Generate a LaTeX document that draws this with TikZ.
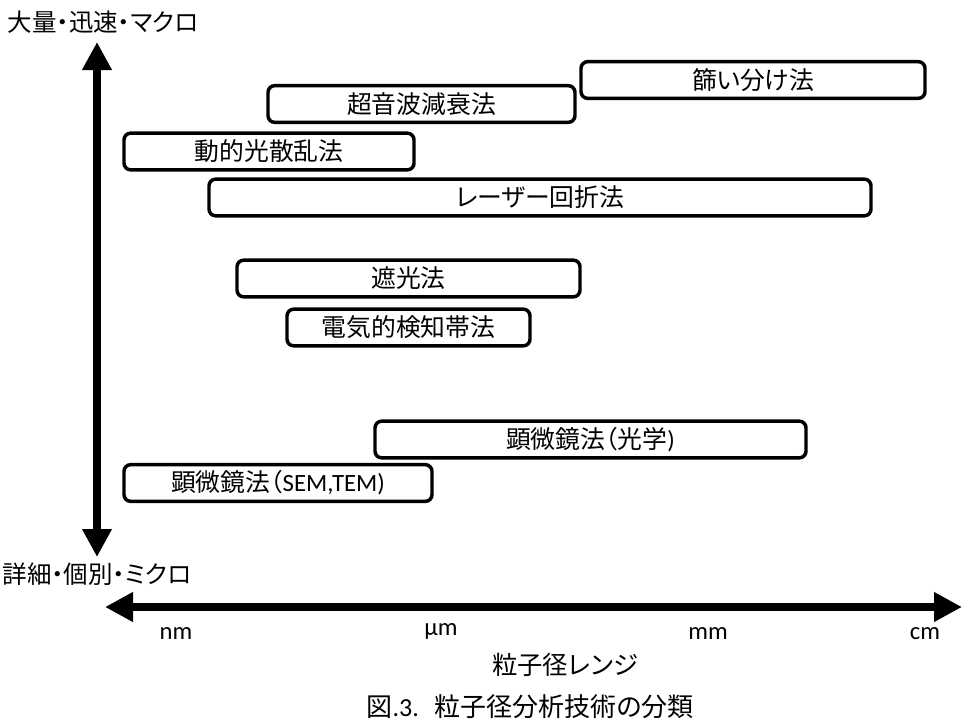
\documentclass[tikz,border=0pt]{standalone}
\usepackage{fontspec}
\setmainfont{Carlito}
\newfontfamily\jp{Noto Sans CJK JP}[RawFeature=+palt]
\usetikzlibrary{arrows.meta}
\tikzset{
    method/.style={draw, line width=2.6pt, rounded corners=5pt,
        minimum height=27.5pt, minimum width=#1*0.75pt, inner sep=0pt,
        font=\jp\fontsize{18.6}{22}\selectfont},
    jplabel/.style={inner sep=0pt, font=\jp\fontsize{18.4}{22}\selectfont},
    unitlabel/.style={inner sep=0pt, font=\fontsize{18.5}{22}\selectfont},
    bigarrow/.style={line width=6pt,
        {Triangle[width=21pt,length=21pt]}-{Triangle[width=21pt,length=21pt]}},
}

\begin{document}
\begin{tikzpicture}[x=0.75pt, y=-0.75pt]
\useasboundingbox (0,0) rectangle (967,726);
% axes
\coordinate (ytop) at (97,42);
\coordinate (ybot) at (97,557);
\coordinate (xleft) at (105,607);
\coordinate (xright) at (962,607);
\draw[bigarrow] (ybot) -- (ytop);
\draw[bigarrow] (xleft) -- (xright);
\node[jplabel] (macro) at (103,22) {大量・迅速・マクロ};
\node[jplabel] (micro) at (97,574) {詳細・個別・ミクロ};
\node[unitlabel] (nm) at (176,634) {nm};
\node[unitlabel] (um) at (441,631) {µm};
\node[unitlabel] (mm) at (708,634) {mm};
\node[unitlabel] (cm) at (925,634) {cm};
\node[jplabel, font=\jp\fontsize{19}{22}\selectfont] (range) at (565,665) {粒子径レンジ};
\node[jplabel, font=\jp\fontsize{19.5}{22}\selectfont] (caption) at (530,707) {図{\rmfamily .3.}\hspace{0.6em}粒子径分析技術の分類};
% methods
\node[method=344] (sieve) at (753,80) {篩い分け法};
\node[method=307] (ultra) at (421.5,104) {超音波減衰法};
\node[method=290] (dls) at (269,151.5) {動的光散乱法};
\node[method=662] (laser) at (540,197.5) {レーザー回折法};
\node[method=343] (shade) at (408.5,278.5) {遮光法};
\node[method=243] (esz) at (408.5,327.5) {電気的検知帯法};
\node[method=431] (optmic) at (590.5,439.5) {顕微鏡法（光学{\rmfamily )}};
\node[method=308] (emmic) at (278,483) {顕微鏡法（{\rmfamily SEM,TEM)}};
\end{tikzpicture}
\end{document}
